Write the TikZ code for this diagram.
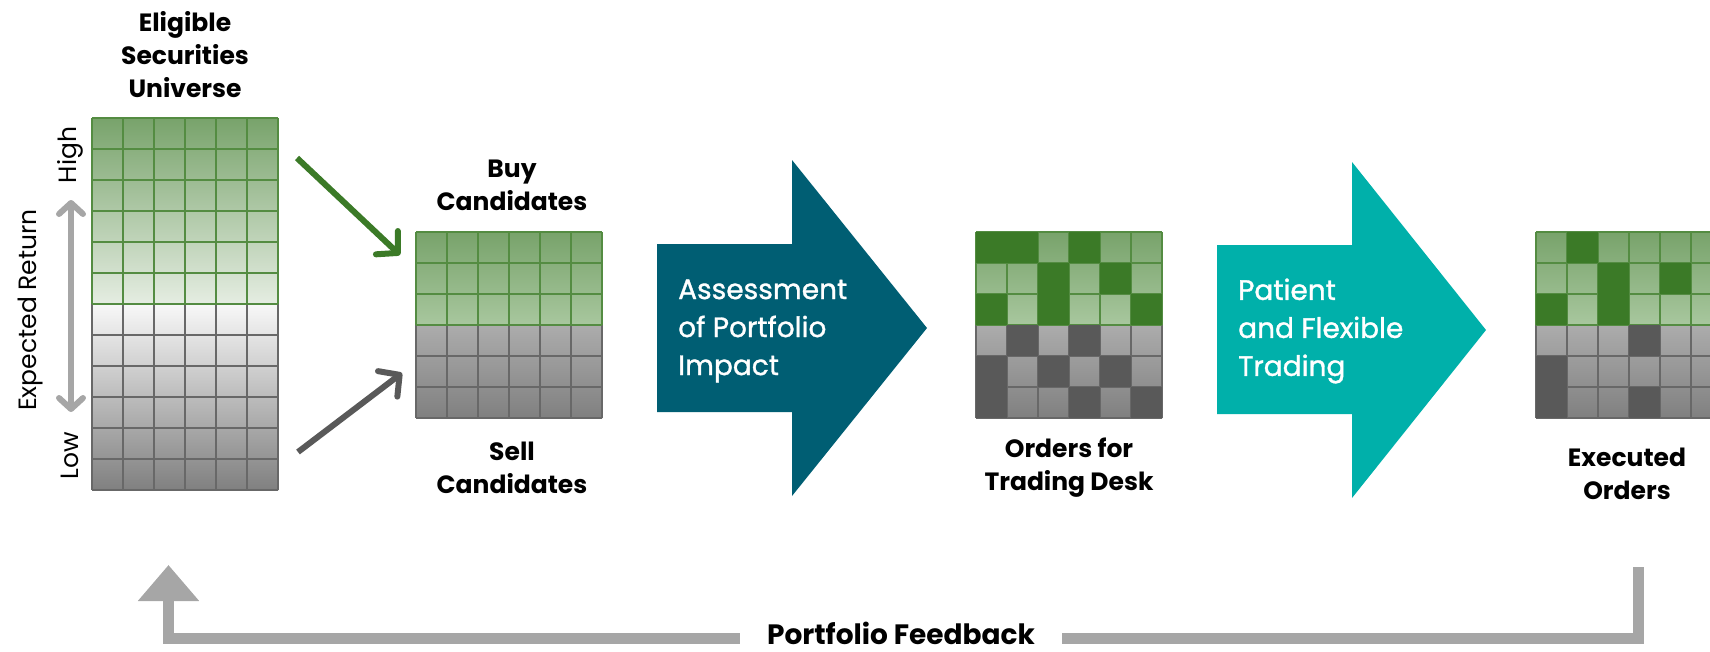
\documentclass[tikz,border=0pt]{standalone}
\usepackage{fontspec}
\setmainfont{Poppins}
\newfontfamily\arrowfont{Poppins}[FakeBold=1.2]
\usetikzlibrary{arrows.meta, positioning, calc}
\definecolor{gridgreen}{RGB}{84,140,66}
\definecolor{darkgreen}{RGB}{59,122,39}
\definecolor{greentop}{RGB}{120,163,107}
\definecolor{greenpale}{RGB}{229,237,226}
\definecolor{greenmid}{RGB}{168,199,158}
\definecolor{graypale}{RGB}{248,248,248}
\definecolor{graymid}{RGB}{172,172,172}
\definecolor{graylow}{RGB}{128,128,128}
\definecolor{gridgray}{RGB}{104,104,104}
\definecolor{darkgray}{RGB}{89,89,89}
\definecolor{tealdark}{RGB}{0,94,115}
\definecolor{teallight}{RGB}{0,176,170}
\definecolor{feedgray}{RGB}{166,166,166}

\begin{document}
\begin{tikzpicture}[
    x=1pt, y=-1pt,
    gridbox/.style={minimum width=186pt, inner sep=0pt, outer sep=0pt, anchor=north west},
    title/.style={align=center, font=\fontsize{25}{33}\selectfont\bfseries},
    axislabel/.style={rotate=90, font=\fontsize{25}{28}\selectfont},
    bigtext/.style={align=left, anchor=west, inner sep=0pt, text=white, font=\arrowfont\fontsize{28}{38}\selectfont},
    flowarrow/.style={line width=6pt, -{Straight Barb[round, length=15pt, width=32pt]}},
    feed/.style={line width=11pt, draw=feedgray}
]
    \useasboundingbox (0,0) rectangle (1710,651);

    % universe grid, 6 x 12 cells
    \node[gridbox, minimum height=372pt] (uni) at (92,118) {};
    \shade[top color=greentop, bottom color=greenpale] (92,118) rectangle (278,304);
    \shade[top color=graypale, bottom color=graylow] (92,304) rectangle (278,490);
    \foreach \i in {0,...,6} {
        \draw[gridgray, line width=1.2pt] (92+31*\i,304) -- (92+31*\i,490);
        \draw[gridgreen, line width=1.2pt] (92+31*\i,118) -- (92+31*\i,304);
    }
    \foreach \j in {7,...,12}
        \draw[gridgray, line width=1.2pt] (92,118+31*\j) -- (278,118+31*\j);
    \foreach \j in {0,...,6}
        \draw[gridgreen, line width=1.2pt] (92,118+31*\j) -- (278,118+31*\j);

    \node[title] (unititle) at (185,55) {Eligible\\Securities\\Universe};
    \node[axislabel] (high) at (70,155) {High};
    \node[axislabel] (low) at (70,456) {Low};
    \node[axislabel] (expret) at (30,310) {Expected Return};
    \coordinate (rethi) at (71,200);
    \coordinate (retlo) at (71,412);
    \draw[feedgray, line width=6pt, {Straight Barb[round, length=11pt, width=24pt]}-{Straight Barb[round, length=11pt, width=24pt]}] (rethi) -- (retlo);

    % 6 x 6 grids
    \foreach \gx/\gy/\name in {416/232/buy, 976/232/ord, 1536/232/exe} {
        \node[gridbox, minimum height=186pt] (\name) at (\gx,\gy) {};
        \shade[top color=greentop, bottom color=greenmid] (\gx,\gy) rectangle (\gx+186,\gy+93);
        \shade[top color=graymid, bottom color=graylow] (\gx,\gy+93) rectangle (\gx+186,\gy+186);
        \foreach \i in {0,...,6} {
            \draw[gridgray, line width=1.2pt] (\gx+31*\i,\gy+93) -- (\gx+31*\i,\gy+186);
            \draw[gridgreen, line width=1.2pt] (\gx+31*\i,\gy) -- (\gx+31*\i,\gy+93);
        }
        \foreach \j in {4,5,6}
            \draw[gridgray, line width=1.2pt] (\gx,\gy+31*\j) -- (\gx+186,\gy+31*\j);
        \foreach \j in {0,...,3}
            \draw[gridgreen, line width=1.2pt] (\gx,\gy+31*\j) -- (\gx+186,\gy+31*\j);
    }

    % filled cells of the order grids
    \foreach \c/\r in {1/1,2/1,4/1,3/2,5/2,1/3,3/3,6/3}
        \fill[darkgreen] (976+31*\c-31,232+31*\r-31) rectangle +(31,31);
    \foreach \c/\r in {2/4,4/4,1/5,3/5,5/5,1/6,4/6,6/6}
        \fill[darkgray] (976+31*\c-31,232+31*\r-31) rectangle +(31,31);
    \foreach \c/\r in {2/1,3/2,5/2,1/3,3/3}
        \fill[darkgreen] (1536+31*\c-31,232+31*\r-31) rectangle +(31,31);
    \foreach \c/\r in {4/4,1/5,1/6,4/6}
        \fill[darkgray] (1536+31*\c-31,232+31*\r-31) rectangle +(31,31);

    \node[title] (buytitle) at (512,185) {Buy\\Candidates};
    \node[title] (selltitle) at (512,468) {Sell\\Candidates};
    \node[title] (ordtitle) at (1069,468) {Orders for\\Trading Desk};
    \node[title] (exetitle) at (1627,474) {Executed\\Orders};

    \coordinate (buyfrom) at (297,158);
    \coordinate (buyto) at (400,255);
    \coordinate (sellfrom) at (298,452);
    \coordinate (sellto) at (402,373);
    \draw[flowarrow, darkgreen] (buyfrom) -- (buyto);
    \draw[flowarrow, darkgray] (sellfrom) -- (sellto);

    % process arrows
    \fill[tealdark] (657,244) -- (792,244) -- (792,160) -- (927,328) -- (792,496) -- (792,412) -- (657,412) -- cycle;
    \node[bigtext] (assess) at (678,331) {Assessment\\of Portfolio\\Impact};
    \fill[teallight] (1217,245) -- (1352,245) -- (1352,162) -- (1486,330) -- (1352,498) -- (1352,414) -- (1217,414) -- cycle;
    \node[bigtext] (trading) at (1238,331) {Patient\\and Flexible\\Trading};

    % feedback loop
    \coordinate (fbstart) at (1638.5,567);
    \coordinate (fbmid) at (901,638.5);
    \coordinate (fbend) at (168.5,565);
    \draw[feed, -{Triangle[length=36pt, width=59pt]}] (fbstart) |- (fbmid) -| (fbend);
    \node[fill=white, font=\fontsize{28}{30}\selectfont\bfseries, inner xsep=27pt, inner ysep=1pt] (feedback) at (901,633) {Portfolio Feedback};
\end{tikzpicture}
\end{document}
